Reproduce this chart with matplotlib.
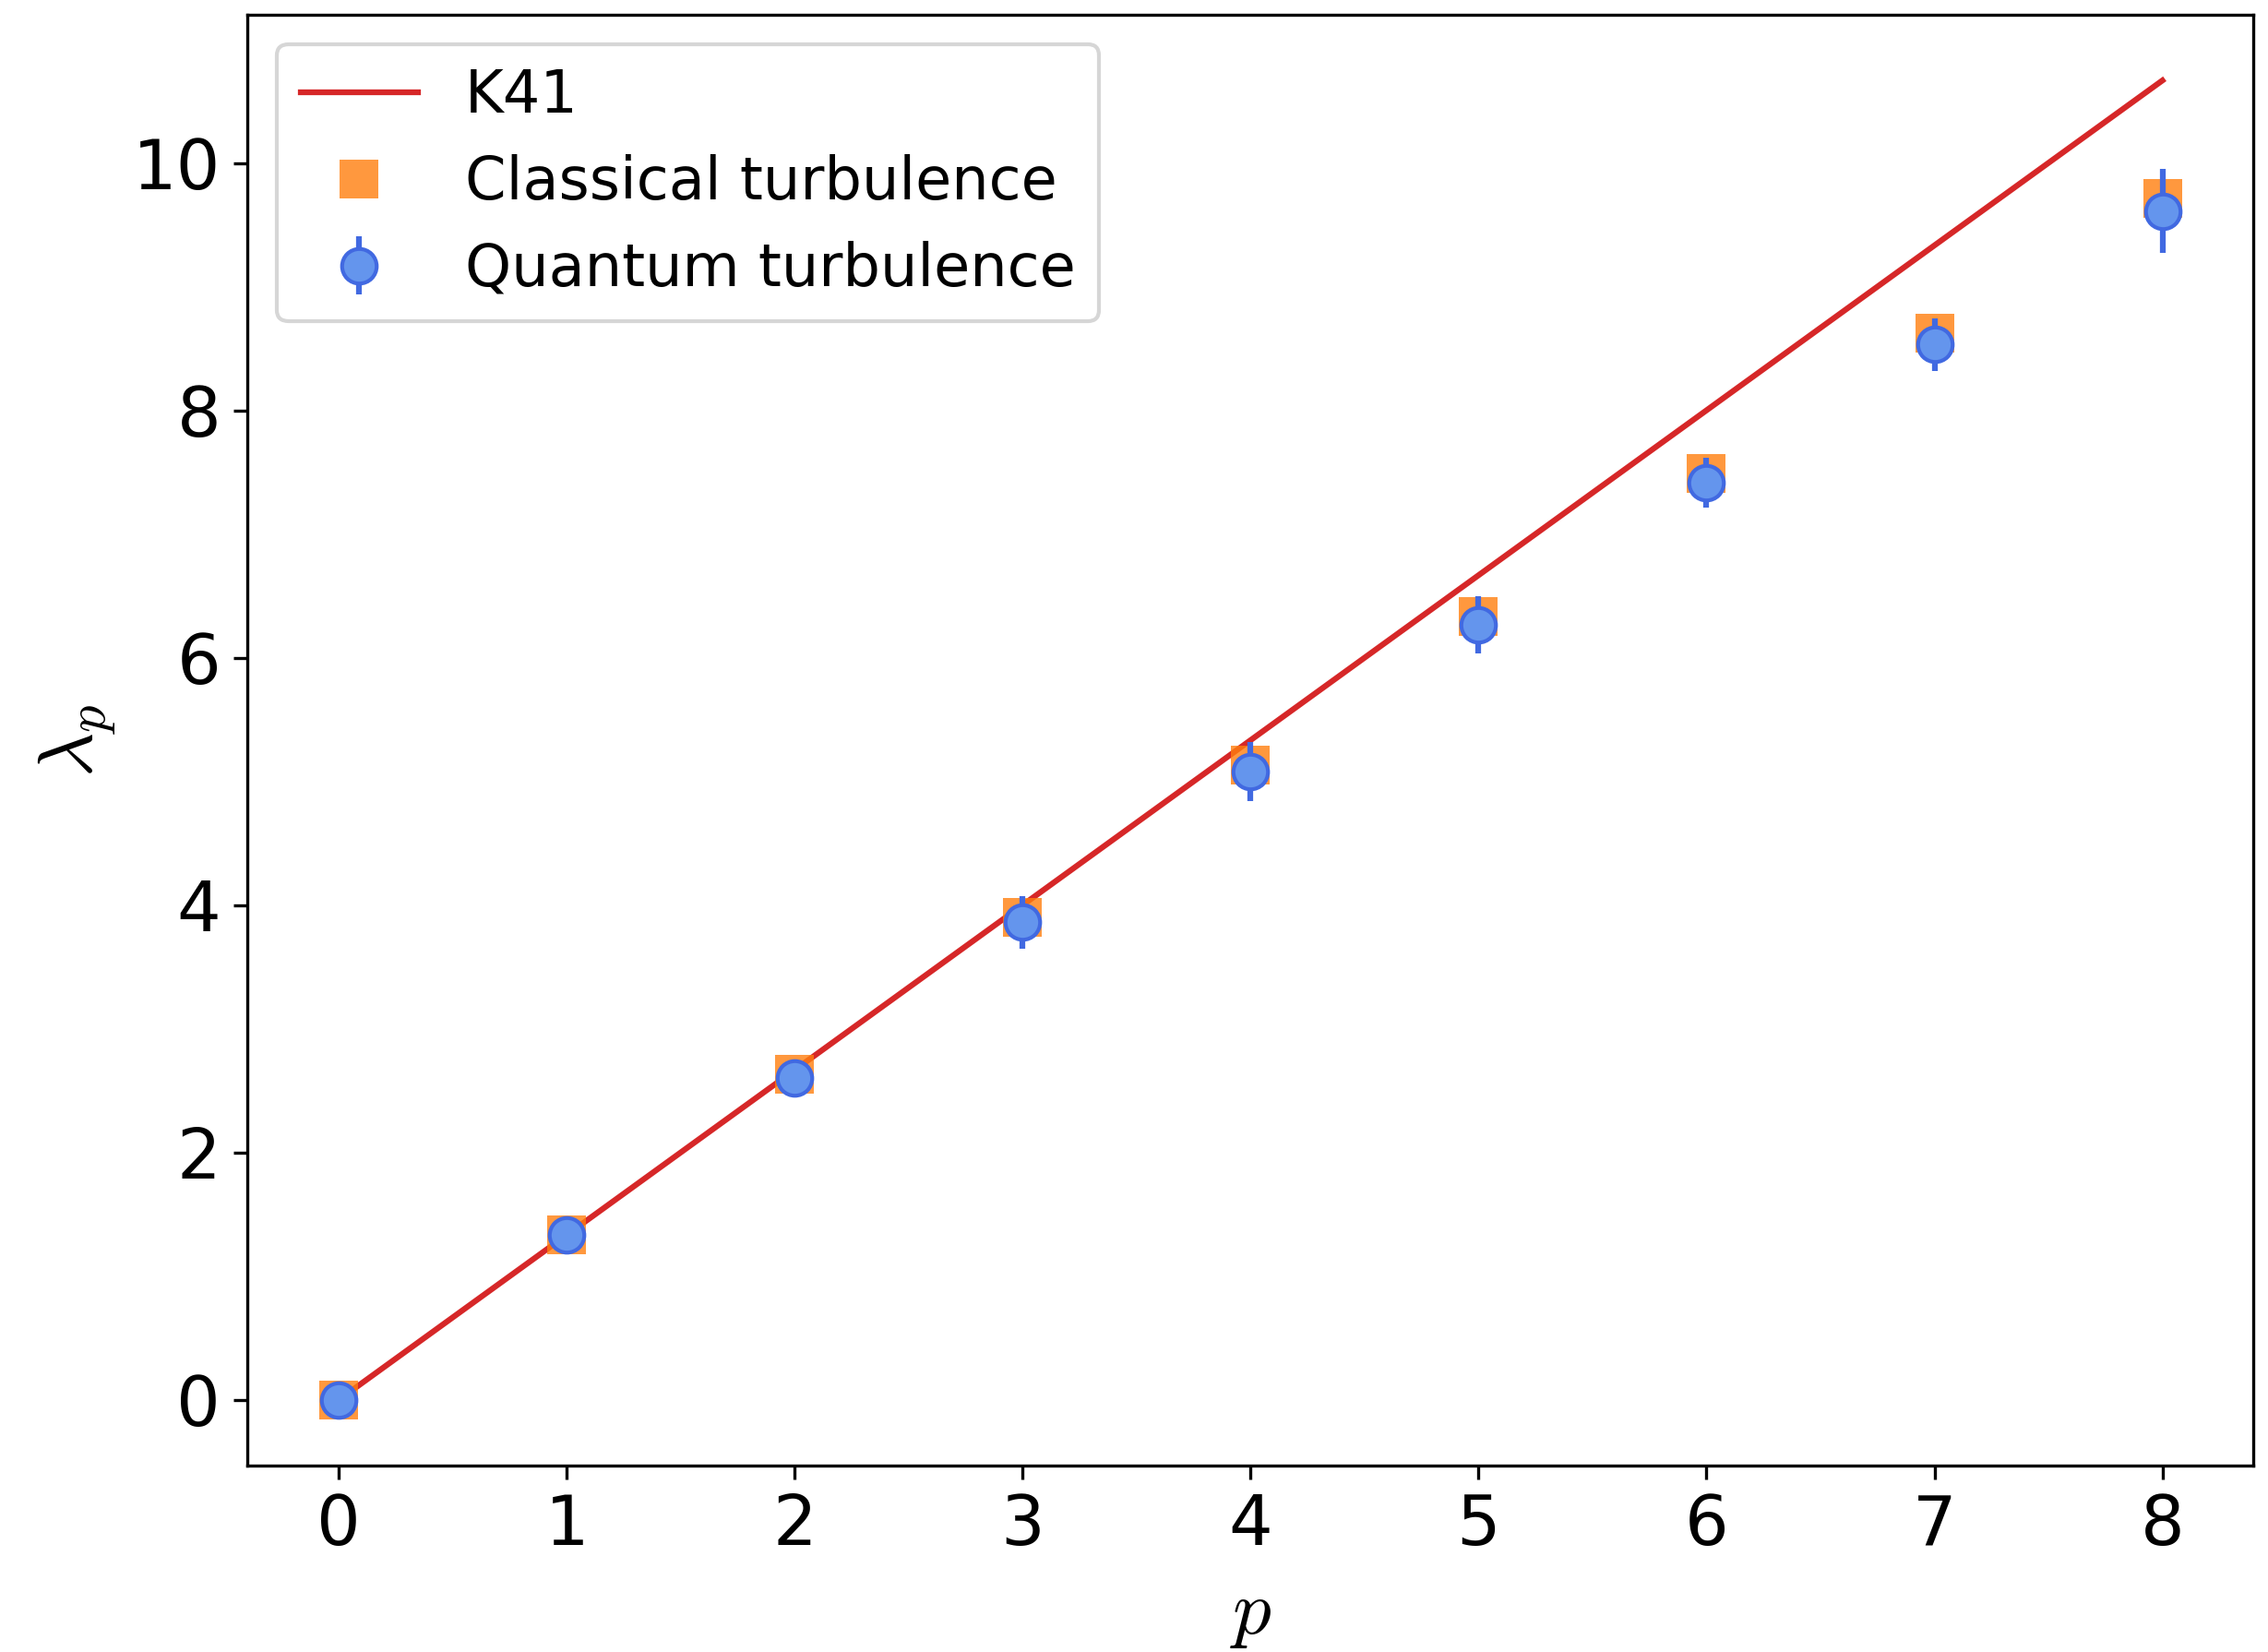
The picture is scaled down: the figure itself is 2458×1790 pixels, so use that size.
import numpy as np
import matplotlib
matplotlib.use("Agg")
import matplotlib.pyplot as plt

plt.rcParams["mathtext.fontset"] = "cm"

# structure function exponents vs order p
p = [0, 1, 2, 3, 4, 5, 6, 7, 8]
classical = [0.0, 1.334, 2.63, 3.90, 5.13, 6.33, 7.49, 8.62, 9.71]
quantum = [0.0, 1.331, 2.605, 3.86, 5.078, 6.265, 7.413, 8.531, 9.61]
quantum_err = [0.0, 0.06, 0.12, 0.21, 0.24, 0.23, 0.20, 0.21, 0.34]

p_line = np.array([0, 8])
k41 = 4 * p_line / 3

fig = plt.figure(figsize=(2458 / 300, 1790 / 300), dpi=300)
ax = fig.add_axes([268.3 / 2458, (1790 - 1588.3) / 1790,
                   (2442.4 - 268.3) / 2458, (1588.3 - 15.7) / 1790])

ax.plot(p_line, k41, color="tab:red", lw=1.5, label="K41")
ax.plot(p, classical, "s", color="tab:orange", alpha=0.8, ms=10, mew=0,
        label="Classical turbulence")
ax.errorbar(p, quantum, yerr=quantum_err, fmt="o", ms=9, mew=1,
            mfc="cornflowerblue", mec="royalblue", ecolor="royalblue",
            elinewidth=1.5, label="Quantum turbulence")

ax.set_xlabel(r"$p$", fontsize=20)
ax.set_ylabel(r"$\lambda_p$", fontsize=20)
ax.tick_params(labelsize=18)
ax.legend(loc="upper left", fontsize=15.3)

fig.savefig("out.png", dpi=300)
